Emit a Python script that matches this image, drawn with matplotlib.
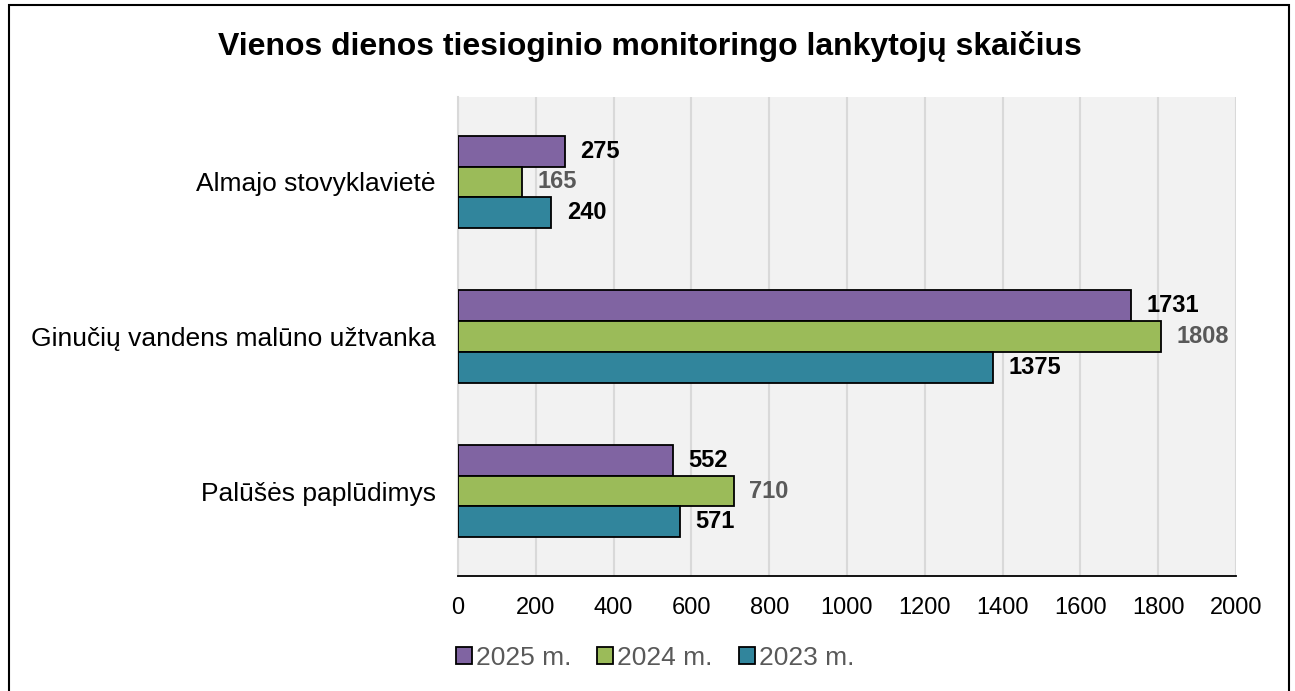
import numpy as np
import matplotlib.pyplot as plt
from matplotlib.patches import Rectangle, Patch

plt.rcParams["font.family"] = ["Liberation Sans", "DejaVu Sans"]

# data
categories = ["Almajo stovyklavietė", "Ginučių vandens malūno užtvanka", "Palūšės paplūdimys"]
series = ["2025 m.", "2024 m.", "2023 m."]
v2025 = [275, 1731, 552]
v2024 = [165, 1808, 710]
v2023 = [240, 1375, 571]
ticks = [0, 200, 400, 600, 800, 1000, 1200, 1400, 1600, 1800, 2000]

colors = ["#8064A2", "#9BBB59", "#31859C"]
label_colors = ["black", "#595959", "black"]

fig = plt.figure(figsize=(12.95, 6.91), dpi=100)
ax = fig.add_axes([458 / 1295, 1 - 576 / 691, 778 / 1295, 479 / 691])
ax.set_facecolor("#F2F2F2")

y = np.arange(len(categories))
h = 0.2
for i, vals in enumerate([v2025, v2024, v2023]):
    pos = y + (i - 1) * h
    ax.barh(pos, vals, height=h, color=colors[i], edgecolor="black", linewidth=1.3, zorder=3)
    for p, v in zip(pos, vals):
        ax.annotate(str(v), (v, p), xytext=(11, 0), textcoords="offset points",
                    va="center", ha="left", fontsize=17, fontweight="bold",
                    color=label_colors[i], zorder=4)

ax.set_xlim(0, 2000)
ax.set_ylim(2.55, -0.55)
ax.set_xticks(ticks)
ax.set_xticklabels([str(t) for t in ticks])
ax.set_yticks(y)
ax.set_yticklabels(categories)
ax.tick_params(axis="x", length=0, labelsize=17, pad=15)
ax.tick_params(axis="y", length=0, labelsize=19, pad=16)
ax.grid(axis="x", color="#D9D9D9", linewidth=1.5, zorder=0)
ax.set_axisbelow(True)
for s in ["top", "right"]:
    ax.spines[s].set_visible(False)
ax.spines["left"].set_color("#D9D9D9")
ax.spines["left"].set_linewidth(1.5)
ax.spines["bottom"].set_color("black")
ax.spines["bottom"].set_linewidth(1.3)

fig.text(650 / 1295, 1 - 47 / 691, "Vienos dienos tiesioginio monitoringo lankytojų skaičius",
         ha="center", va="center", fontsize=23, fontweight="bold")

handles = [Patch(facecolor=c, edgecolor="black", linewidth=1.3) for c in colors]
leg = fig.legend(handles, series, loc="center", bbox_to_anchor=(655 / 1295, 1 - 658 / 691),
                 ncol=3, frameon=False, fontsize=19, handlelength=0.6, handleheight=0.6,
                 handletextpad=0.15, columnspacing=1.0)
for t in leg.get_texts():
    t.set_color("#595959")

# outer frame and clipped caption at the top
fig.patches.append(Rectangle((9 / 1295, -0.05), 1280 / 1295, 1.05 - 5 / 691,
                             transform=fig.transFigure, fill=False, edgecolor="black",
                             linewidth=1.5))
fig.text(4 / 1295, 1 + 10 / 691, "3 diagrama", ha="left", va="center", fontsize=13)

fig.savefig("out.png", dpi=100, facecolor="white")
